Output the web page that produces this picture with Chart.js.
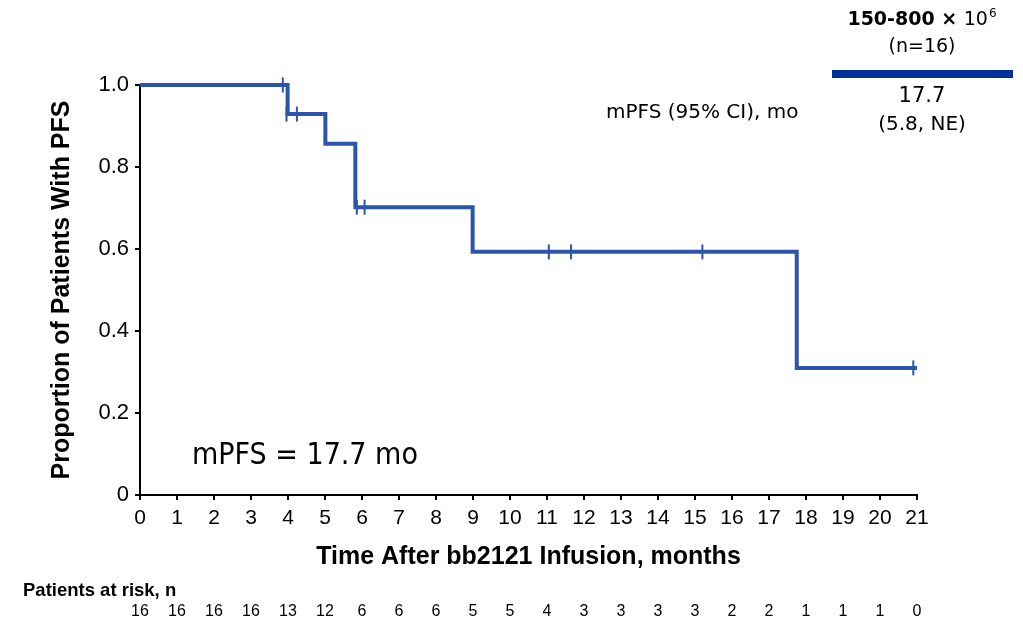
<!DOCTYPE html>
<html>
<head>
<meta charset="utf-8">
<script src="https://cdn.jsdelivr.net/npm/chart.js@4.4.1/dist/chart.umd.min.js"></script>
<style>
  html, body { margin: 0; padding: 0; background: #fff; }
  #wrap { width: 1023px; height: 619px; position: relative; }
</style>
</head>
<body>
<div id="wrap"><canvas id="pfsChart"></canvas></div>
<script>
// Kaplan-Meier steps (time in months, proportion progression-free)
const stepTimes = [0, 3.99, 5.01, 5.82, 8.99, 17.75, 21];
const stepSurvival = [1, 0.929, 0.857, 0.702, 0.593, 0.31, 0.31];

// censored patients
const censorTimes = [3.86, 3.96, 4.24, 5.86, 6.07, 11.05, 11.65, 15.2, 20.9];
const censorSurvival = [1, 0.929, 0.929, 0.702, 0.702, 0.593, 0.593, 0.593, 0.31];

// patients at risk table
const riskMonths = [0, 1, 2, 3, 4, 5, 6, 7, 8, 9, 10, 11, 12, 13, 14, 15, 16, 17, 18, 19, 20, 21];
const atRisk = [16, 16, 16, 16, 13, 12, 6, 6, 6, 5, 5, 4, 3, 3, 3, 3, 2, 2, 1, 1, 1, 0];

const yTickValues = [0, 0.2, 0.4, 0.6, 0.8, 1.0];
const yTickLabels = ['0', '0.2', '0.4', '0.6', '0.8', '1.0'];

const LINE_COLOR = '#2b55a8';
const LEGEND_COLOR = '#003399';
const ARIAL = "'Liberation Sans', Arial, sans-serif";
const TAHOMA = "'DejaVu Sans', sans-serif";
const TAHOMA_C = "'DejaVu Sans Condensed', 'DejaVu Sans', sans-serif";

const annotationsPlugin = {
  id: 'annotations',
  afterDraw(chart) {
    const { ctx } = chart;
    const xScale = chart.scales.x;
    ctx.save();
    ctx.fillStyle = '#000';

    // median text inside plot
    ctx.font = `30px ${TAHOMA_C}`;
    ctx.textAlign = 'left';
    ctx.textBaseline = 'middle';
    ctx.fillText('mPFS = 17.7 mo', 192, 456);

    // summary table top right
    ctx.font = `20px ${TAHOMA}`;
    ctx.fillText('mPFS (95% CI), mo', 606, 113);

    const cx = 922;
    const headBold = '150-800 × ';
    const headReg = '10';
    ctx.font = `bold 19px ${TAHOMA}`;
    const boldW = ctx.measureText(headBold).width;
    ctx.font = `19px ${TAHOMA}`;
    const regW = ctx.measureText(headReg).width;
    ctx.font = `12px ${TAHOMA}`;
    const supW = ctx.measureText('6').width;
    const hx = cx - (boldW + regW + supW + 1) / 2;
    ctx.font = `bold 19px ${TAHOMA}`;
    ctx.fillText(headBold, hx, 20);
    ctx.font = `19px ${TAHOMA}`;
    ctx.fillText(headReg, hx + boldW, 20);
    ctx.font = `12px ${TAHOMA}`;
    ctx.fillText('6', hx + boldW + regW + 1, 14);

    ctx.textAlign = 'center';
    ctx.font = `19px ${TAHOMA}`;
    ctx.fillText('(n=16)', cx, 47);
    ctx.font = `21px ${TAHOMA}`;
    ctx.fillText('17.7', cx, 97);
    ctx.font = `20px ${TAHOMA}`;
    ctx.fillText('(5.8, NE)', cx, 125);

    ctx.fillStyle = LEGEND_COLOR;
    ctx.fillRect(832, 70, 181, 8);

    // patients at risk
    ctx.fillStyle = '#000';
    ctx.textAlign = 'left';
    ctx.font = `bold 18.5px ${ARIAL}`;
    ctx.fillText('Patients at risk, n', 23, 591);
    ctx.textAlign = 'center';
    ctx.font = `16px ${ARIAL}`;
    riskMonths.forEach((m, i) => {
      ctx.fillText(String(atRisk[i]), xScale.getPixelForValue(m), 612);
    });
    ctx.restore();
  },
};

new Chart(document.getElementById('pfsChart'), {
  type: 'line',
  data: {
    datasets: [
      {
        label: 'PFS',
        data: stepTimes.map((t, i) => ({ x: t, y: stepSurvival[i] })),
        borderColor: LINE_COLOR,
        borderWidth: 4,
        stepped: 'before',
        pointRadius: 0,
        fill: false,
        clip: false,
      },
      {
        label: 'Censored',
        data: censorTimes.map((t, i) => ({ x: t, y: censorSurvival[i] })),
        showLine: false,
        pointStyle: 'line',
        rotation: 90,
        pointRadius: 7.5,
        borderColor: LINE_COLOR,
        pointBorderWidth: 2,
        clip: false,
      },
    ],
  },
  options: {
    responsive: true,
    maintainAspectRatio: false,
    animation: false,
    layout: { padding: { top: 85, right: 106, left: 0, bottom: 0 } },
    plugins: { legend: { display: false }, tooltip: { enabled: false } },
    scales: {
      x: {
        type: 'linear',
        min: 0,
        max: 21,
        afterFit(scale) { scale.height = 124; },
        ticks: { stepSize: 1, color: '#000', font: { family: ARIAL, size: 21 }, padding: 6, maxRotation: 0, autoSkip: false },
        grid: { drawOnChartArea: false, drawTicks: true, tickLength: 5, color: '#000', lineWidth: 2 },
        border: { color: '#000', width: 2 },
        title: {
          display: true,
          text: 'Time After bb2121 Infusion, months',
          color: '#000',
          font: { family: ARIAL, size: 25, weight: 'bold' },
          padding: { top: 0, bottom: 47 },
        },
      },
      y: {
        min: 0,
        max: 1,
        afterFit(scale) { scale.width = 140; },
        afterBuildTicks(scale) { scale.ticks = yTickValues.map((v) => ({ value: v })); },
        ticks: {
          color: '#000',
          font: { family: ARIAL, size: 22 },
          padding: 6,
          callback: (value) => yTickLabels[yTickValues.indexOf(value)],
        },
        grid: { drawOnChartArea: false, drawTicks: true, tickLength: 5, color: '#000', lineWidth: 2 },
        border: { color: '#000', width: 2 },
        title: {
          display: true,
          text: 'Proportion of Patients With PFS',
          color: '#000',
          font: { family: ARIAL, size: 25, weight: 'bold' },
          padding: { top: 47, bottom: 0 },
        },
      },
    },
  },
  plugins: [annotationsPlugin],
});
</script>
</body>
</html>
